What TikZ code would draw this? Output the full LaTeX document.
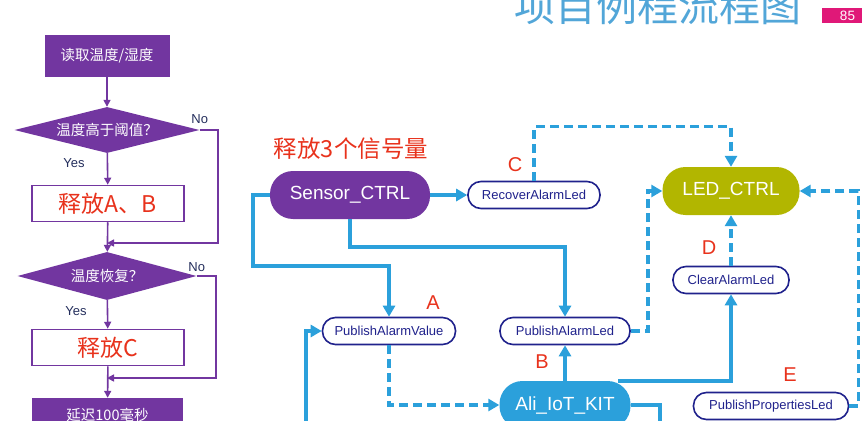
\documentclass[tikz,border=0pt]{standalone}
\usepackage{fontspec}
\setmainfont{Liberation Sans}
\newfontfamily\cjk{Noto Sans CJK SC}
\usepackage{tikz}
\usetikzlibrary{shapes.geometric,positioning,arrows.meta,calc}
\usepackage{xcolor}
\definecolor{flowpurple}{RGB}{114,54,160}
\definecolor{linkblue}{RGB}{43,160,219}
\definecolor{apinavy}{RGB}{32,34,140}
\definecolor{ledolive}{RGB}{178,182,0}
\definecolor{sigred}{RGB}{232,50,28}
\definecolor{titleblue}{RGB}{82,166,216}
\definecolor{pagepink}{RGB}{224,24,120}
\definecolor{yesnavy}{RGB}{36,46,92}
\tikzset{
  flowbox/.style={rectangle,fill=flowpurple,text=white,minimum width=125pt,minimum height=42pt,inner sep=0pt,font=\cjk\fontsize{14.5}{15}\selectfont},
  flowout/.style={rectangle,draw=flowpurple,line width=1.5pt,fill=white,text=sigred,minimum width=152pt,minimum height=36pt,inner sep=0pt,font=\cjk\fontsize{23}{23}\selectfont},
  decision/.style={diamond,aspect=4,fill=flowpurple,text=white,inner sep=0pt,font=\cjk\fontsize{14.5}{15}\selectfont},
  yesno/.style={text=yesnavy,inner sep=1pt,font=\fontsize{13}{13}\selectfont},
  fline/.style={draw=flowpurple,line width=1.6pt},
  farrow/.style={fline,-{Triangle[length=7pt,width=7pt]}},
  taskbox/.style={rectangle,rounded corners=23pt,text=white,minimum height=48pt,inner sep=0pt,font=\fontsize{19}{19}\selectfont},
  apibox/.style={rectangle,rounded corners=13pt,draw=apinavy,line width=1.6pt,fill=white,text=apinavy,minimum height=27pt,inner sep=0pt,font=\fontsize{13}{13}\selectfont},
  siglabel/.style={text=sigred,inner sep=0pt,font=\fontsize{20}{20}\selectfont},
  bline/.style={draw=linkblue,line width=3.5pt},
  barrow/.style={bline,-{Triangle[length=11pt,width=12pt]}},
  dline/.style={bline,dash pattern=on 9pt off 5pt},
  darrow/.style={dline,-{Triangle[length=11pt,width=12pt]}},
  pagebox/.style={fill=pagepink,text=white,text width=26pt,align=right,inner xsep=7pt,minimum height=15pt,inner ysep=0pt,font=\fontsize{13.5}{13.5}\selectfont},
}
\begin{document}
\begin{tikzpicture}[x=1pt,y=-1pt]
\useasboundingbox (0,0) rectangle (864,420);
\clip (0,0) rectangle (864,420);

\node[font=\cjk\fontsize{41}{41}\selectfont,text=titleblue,anchor=base] (title) at (658,22) {项目例程流程图};
\node[pagebox] (pagenum) at (842,15.5) {85};

% left flow
\node[flowbox] (read) at (107,56) {读取温度/湿度};
\node[decision,minimum width=185pt,minimum height=46pt] (dec1) at (107,130) {温度高于阈值？};
\node[flowout] (outab) at (108,203.5) {释放A、B};
\node[decision,minimum width=179pt,minimum height=48pt] (dec2) at (107,276) {温度恢复？};
\node[flowout] (outc) at (108,347.5) {释放C};
\node[flowbox,minimum width=151pt,minimum height=34pt] (delay) at (107.5,415) {延迟100毫秒};
\coordinate (join1) at (107,243);
\coordinate (join2) at (107,378);

\draw[farrow] (read) -- (dec1);
\draw[farrow] (dec1) -- node[yesno,pos=0.3,left=21pt] {Yes} (outab);
\draw[farrow] (dec1.east) node[yesno,above=5pt] {No} -- ++(18,0) |- (join1);
\draw[farrow] (outab) -- (dec2);
\draw[farrow] (dec2) -- node[yesno,pos=0.4,left=19pt] {Yes} (outc);
\draw[farrow] (dec2.east) node[yesno,above=3pt] {No} -- ++(19,0) |- (join2);
\draw[farrow] (outc) -- (delay);

% tasks and semaphores
\node[font=\cjk\fontsize{23.5}{24}\selectfont,text=sigred,inner sep=0pt] (semtext) at (351,149) {释放3个信号量};
\node[taskbox,fill=flowpurple,minimum width=160pt] (sensor) at (350,195) {Sensor\_CTRL};
\node[apibox,minimum width=132pt] (recover) at (534,195) {RecoverAlarmLed};
\node[taskbox,fill=ledolive,minimum width=137pt] (led) at (731,191) {LED\_CTRL};
\node[apibox,minimum width=116pt] (clear) at (731,280) {ClearAlarmLed};
\node[apibox,minimum width=133pt] (pav) at (389,331) {PublishAlarmValue};
\node[apibox,minimum width=130pt] (pal) at (565,331) {PublishAlarmLed};
\node[taskbox,fill=linkblue,minimum width=131pt] (ali) at (565,405) {Ali\_IoT\_KIT};
\node[apibox,minimum width=155pt] (ppl) at (771,406) {PublishPropertiesLed};
\coordinate (aliout) at (660,430);
\coordinate (pavin) at (306,430);

\node[siglabel] (labA) at (433,303) {A};
\node[siglabel] (labB) at (542,362) {B};
\node[siglabel] (labC) at (515,165) {C};
\node[siglabel] (labD) at (709,248) {D};
\node[siglabel] (labE) at (790,375) {E};

\draw[barrow] (sensor) -- (recover);
\draw[darrow] (recover.north) -- ++(0,-54) -| (led.north);
\draw[darrow] (pal.east) -- ++(17,0) |- (led.west);
\draw[darrow] (ppl.east) -- ++(9,0) |- (led.east);
\draw[darrow] (clear) -- (led);
\draw[barrow] ($(ali.north)+(53,0)$) -| (clear.south);
\draw[barrow] (sensor.south) -- ++(0,28) -| (pal.north);
\draw[barrow] (sensor.west) -| ++(-17,71) -| (pav.north);
\draw[darrow] (pav.south) |- (ali.west);
\draw[barrow] (ali) -- (pal);
\draw[bline] (ali.east) -| (aliout);
\draw[barrow] (pavin) |- (pav.west);

\end{tikzpicture}
\end{document}
